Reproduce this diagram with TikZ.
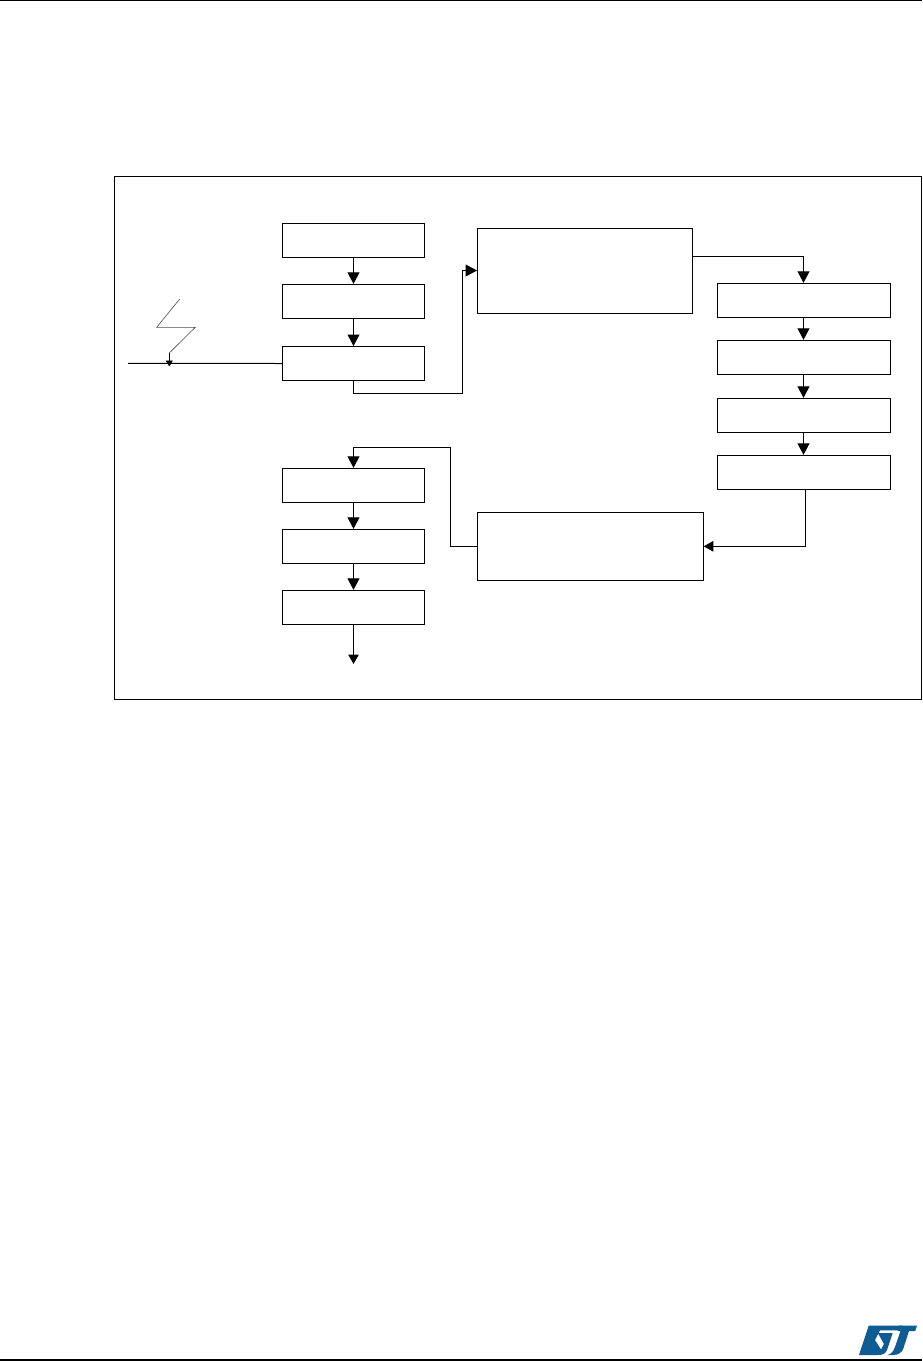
\documentclass[tikz,border=0pt]{standalone}
\usetikzlibrary{arrows.meta}
\definecolor{stblue}{HTML}{0F5C94}
\tikzset{
  boxs/.style={draw=black,line width=1pt,rectangle,inner sep=0pt,fill=white},
  smallbox/.style={boxs,minimum width=142pt,minimum height=34pt},
  rightbox/.style={boxs,minimum width=173.4pt,minimum height=34pt},
  conn/.style={line width=1pt,-{Triangle[length=11.5pt,width=12pt]}},
  smallconn/.style={line width=1pt,-{Triangle[length=9.5pt,width=10.5pt]}},
  plainconn/.style={line width=1pt},
  bolt/.style={line width=0.6pt,draw=black!70},
  bolttip/.style={line width=0.9pt,-{Triangle[length=6pt,width=7pt]}},
  stlogo/.style={fill=stblue,draw=none},
  pagerule/.style={line width=1.2pt}
}
\begin{document}
\begin{tikzpicture}[x=1pt,y=-1pt]
\useasboundingbox (0,0) rectangle (922,1361);
\fill[white] (0,0) rectangle (922,1361);
\draw[pagerule] (0,0.6) -- (922,0.6);
\draw[pagerule] (0,1360) -- (922,1360);
\draw[line width=1pt] (114.5,176.5) rectangle (921,699.3);
% left column
\node[smallbox] (a1) at (353.5,240) {};
\node[smallbox] (a2) at (353.5,301.3) {};
\node[smallbox] (a3) at (353.5,363.5) {};
% left lower column
\node[smallbox] (c1) at (353.5,485.3) {};
\node[smallbox] (c2) at (353.5,546.3) {};
\node[smallbox] (c3) at (353.5,607.3) {};
% big boxes
\node[boxs,minimum width=215pt,minimum height=85pt] (m1) at (585,270.5) {};
\node[boxs,minimum width=226pt,minimum height=68pt] (m2) at (590.3,546.3) {};
% right column
\node[rightbox] (r1) at (804,300.3) {};
\node[rightbox] (r2) at (804,357.3) {};
\node[rightbox] (r3) at (804,415.3) {};
\node[rightbox] (r4) at (804,472.3) {};
% connectors
\draw[conn] (a1) -- (a2);
\draw[conn] (a2) -- (a3);
\coordinate (a3turn) at (353.5,393);
\coordinate (a3up) at (462.5,393);
\draw[conn] (a3.south) -- (a3turn) -- (a3up) |- (m1.west);
\coordinate (m1turn) at (803.5,256.3);
\draw[conn] ([yshift=14.2pt]m1.east) -- (m1turn) -- ([xshift=-0.5pt]r1.north);
\draw[conn] ([xshift=-0.5pt]r1.south) -- ([xshift=-0.5pt]r2.north);
\draw[conn] ([xshift=-0.5pt]r2.south) -- ([xshift=-0.5pt]r3.north);
\draw[conn] ([xshift=-0.5pt]r3.south) -- ([xshift=-0.5pt]r4.north);
\draw[smallconn] ([xshift=1.3pt]r4.south) |- (m2.east);
\coordinate (m2a) at (450.3,546.3);
\coordinate (m2b) at (450.3,447.3);
\coordinate (m2c) at (353.5,447.3);
\draw[conn] (m2.west) -- (m2a) -- (m2b) -- (m2c) -- (c1.north);
\draw[conn] (c1) -- (c2);
\draw[conn] (c2) -- (c3);
\coordinate (outend) at (353.5,664);
\draw[smallconn] (c3.south) -- (outend);
% input line and lightning
\coordinate (inbeg) at (128,363.3);
\draw[plainconn] (inbeg) -- (a3.west);
\coordinate (b1) at (179.7,299);
\coordinate (b2) at (156.7,327.3);
\coordinate (b3) at (195.3,327.3);
\coordinate (b4) at (169.3,353);
\coordinate (b5) at (169.3,366.5);
\draw[bolt] (b1) -- (b2) -- (b3) -- (b4);
\draw[bolttip] (b4) -- (b5);
% logo
\fill[stlogo] (868.7,1325.6) -- (903,1325.6) -- (901.4,1330.4) -- (880,1330.4)
  -- (875,1340) -- (881,1349.5) -- (884,1344) -- (878,1333.2) -- (892.6,1333.2) -- (887,1350)
  .. controls (885.5,1353.5) and (883,1355) .. (878,1355) -- (859,1355) -- cycle;
\fill[stlogo] (899,1325.6) -- (917,1325.6) -- (915.2,1331) -- (909,1331)
   -- (903.5,1348) .. controls (902,1352.5) and (898.5,1355) .. (893,1355) -- (887.5,1355)
   .. controls (891.5,1354) and (893.5,1351) .. (895,1347) -- (900.5,1331) -- (897.6,1331) -- cycle;
\end{tikzpicture}
\end{document}
